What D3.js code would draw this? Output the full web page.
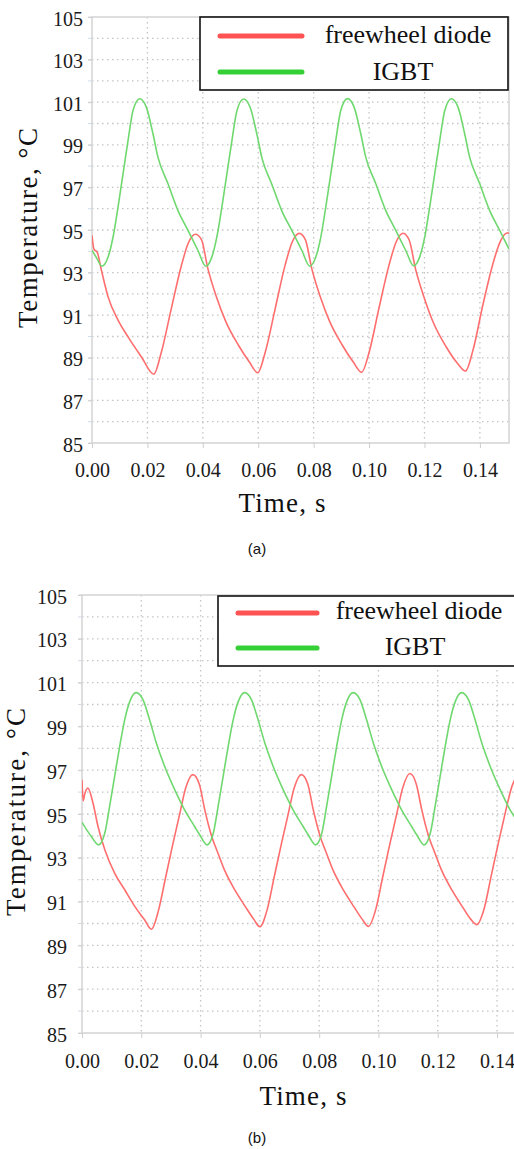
<!DOCTYPE html>
<html>
<head>
<meta charset="utf-8">
<script src="https://cdn.jsdelivr.net/npm/d3@7"></script>
<style>
  html, body { margin: 0; padding: 0; background: #fff; }
  svg { display: block; }
  .tick text { fill: #1a1a1a; }
</style>
</head>
<body>
<svg id="chart" width="514" height="1149"></svg>
<script>
// ---- data ----
var seriesNames = ["freewheel diode", "IGBT"];
var yTickValues = [85, 87, 89, 91, 93, 95, 97, 99, 101, 103, 105];
var xTickValues = [0, 0.02, 0.04, 0.06, 0.08, 0.10, 0.12, 0.14];

// panel (a)
var aTimeIgbt = [0, 0.0016, 0.0036, 0.0058, 0.0076, 0.0094, 0.0112, 0.013, 0.0148, 0.0172, 0.0196, 0.022, 0.0238, 0.0274, 0.031, 0.0346, 0.0382, 0.0411,
  0.0433, 0.0451, 0.0469, 0.0487, 0.0505, 0.0523, 0.0547, 0.0571, 0.0595, 0.0613, 0.0649, 0.0685, 0.0721, 0.0757, 0.0786,
  0.0808, 0.0826, 0.0844, 0.0862, 0.088, 0.0898, 0.0922, 0.0946, 0.097, 0.0988, 0.1024, 0.106, 0.1096, 0.1132, 0.1161,
  0.1183, 0.1201, 0.1219, 0.1237, 0.1255, 0.1273, 0.1297, 0.1321, 0.1345, 0.1363, 0.1399, 0.1435, 0.1471, 0.1505];
var aIgbt = [94.05, 93.7, 93.3, 93.73, 94.67, 96.08, 97.64, 99.2, 100.61, 101.16, 100.77, 99.52, 98.42, 97.18, 95.92, 94.99, 94.05, 93.3,
  93.75, 94.7, 96.1, 97.65, 99.2, 100.6, 101.15, 100.75, 99.5, 98.4, 97.15, 95.9, 94.98, 94.05, 93.3,
  93.74, 94.68, 96.1, 97.65, 99.22, 100.62, 101.17, 100.77, 99.52, 98.42, 97.18, 95.92, 94.99, 94.05, 93.32,
  93.75, 94.68, 96.1, 97.65, 99.2, 100.6, 101.16, 100.77, 99.52, 98.42, 97.18, 95.92, 94.99, 94.1];
var aTimeDiode = [0, 0.0007, 0.0019, 0.0034, 0.0058, 0.0094, 0.013, 0.0178, 0.0223, 0.025, 0.0286, 0.0322, 0.0348, 0.0373,
  0.0395, 0.0418, 0.0448, 0.0483, 0.0528, 0.0568, 0.0598, 0.0625, 0.0661, 0.0697, 0.0723, 0.0748,
  0.077, 0.0793, 0.0823, 0.0858, 0.0903, 0.0943, 0.0973, 0.1, 0.1036, 0.1072, 0.1098, 0.1123,
  0.1145, 0.1168, 0.1198, 0.1233, 0.1278, 0.1318, 0.1348, 0.1375, 0.1411, 0.1447, 0.1475, 0.1498, 0.1505];
var aDiode = [94.75, 94.1, 93.95, 93.11, 91.86, 90.77, 89.98, 89.05, 88.23, 89.25, 91.3, 93.3, 94.4, 94.8,
  94.55, 93.2, 91.9, 90.7, 89.6, 88.8, 88.3, 89.25, 91.3, 93.35, 94.45, 94.84,
  94.55, 93.2, 91.9, 90.7, 89.6, 88.8, 88.32, 89.25, 91.35, 93.35, 94.45, 94.85,
  94.52, 93.15, 91.86, 90.62, 89.52, 88.76, 88.38, 89.36, 91.5, 93.42, 94.5, 94.86, 94.86];

// panel (b)
var bTimeIgbt = [0, 0.0031, 0.0056, 0.0077, 0.0093, 0.011, 0.0127, 0.0144, 0.0161, 0.0183, 0.0206, 0.0228, 0.0251, 0.0279, 0.0313, 0.0346, 0.038, 0.0397, 0.0422,
  0.0443, 0.0459, 0.0476, 0.0493, 0.051, 0.0527, 0.0549, 0.0572, 0.0594, 0.0617, 0.0645, 0.0679, 0.0712, 0.0746, 0.0763, 0.0788,
  0.0809, 0.0825, 0.0842, 0.0859, 0.0876, 0.0893, 0.0915, 0.0938, 0.096, 0.0983, 0.1011, 0.1045, 0.1078, 0.1112, 0.1129, 0.1154,
  0.1175, 0.1191, 0.1208, 0.1225, 0.1242, 0.1259, 0.1281, 0.1304, 0.1326, 0.1349, 0.1377, 0.1411, 0.1444, 0.146];
var bIgbt = [94.62, 93.98, 93.59, 94.13, 95.34, 96.71, 98.08, 99.3, 100.13, 100.54, 100.21, 99.3, 98.23, 97.17, 96.1, 95.19, 94.43, 94.05, 93.59,
  94.13, 95.34, 96.71, 98.08, 99.3, 100.13, 100.54, 100.21, 99.3, 98.23, 97.17, 96.1, 95.19, 94.43, 94.05, 93.59,
  94.13, 95.34, 96.71, 98.08, 99.3, 100.13, 100.54, 100.21, 99.3, 98.23, 97.17, 96.1, 95.19, 94.43, 94.05, 93.59,
  94.13, 95.34, 96.71, 98.08, 99.3, 100.13, 100.54, 100.21, 99.3, 98.23, 97.17, 96.1, 95.19, 94.85];
var bTimeDiode = [0, 0.0004, 0.0009, 0.002, 0.0037, 0.0054, 0.0077, 0.011, 0.0144, 0.0178, 0.0211, 0.0234,
  0.0258, 0.0282, 0.0306, 0.0328, 0.035, 0.0374, 0.0396, 0.0414, 0.0437, 0.0459, 0.0482, 0.0517, 0.0552, 0.0579, 0.06,
  0.0624, 0.0648, 0.0672, 0.0694, 0.0716, 0.074, 0.0762, 0.078, 0.0803, 0.0825, 0.0848, 0.0883, 0.0918, 0.0945, 0.0966,
  0.099, 0.1014, 0.1038, 0.106, 0.1082, 0.1106, 0.1128, 0.1146, 0.1169, 0.1191, 0.1214, 0.1249, 0.1284, 0.1311, 0.1332,
  0.1356, 0.138, 0.1404, 0.1426, 0.145, 0.1464];
var bDiode = [96.56, 95.6, 95.9, 96.18, 95.5, 94.43, 93.37, 92.3, 91.54, 90.78, 90.17, 89.74,
  90.6, 92.1, 93.6, 94.9, 96.2, 96.8, 96.35, 95.2, 94.0, 93.2, 92.4, 91.5, 90.75, 90.2, 89.85,
  90.6, 92.1, 93.6, 94.9, 96.2, 96.8, 96.35, 95.2, 94.0, 93.2, 92.4, 91.5, 90.75, 90.2, 89.87,
  90.6, 92.1, 93.6, 94.9, 96.2, 96.85, 96.35, 95.2, 94.0, 93.2, 92.4, 91.5, 90.75, 90.2, 89.95,
  90.65, 92.15, 93.65, 94.95, 96.25, 96.7];

var lineColors = ["#ff6e6e", "#6fd86f"];     // thin plot lines
var legendColors = ["#ff5252", "#35d035"];   // thick legend strokes
var serif = "'Liberation Serif', 'Times New Roman', serif";

var svg = d3.select("#chart");

function drawPanel(p) {
	var x = d3.scaleLinear().domain([0, p.xMax]).range([p.left, p.right]);
	var y = d3.scaleLinear().domain([85, 105]).range([p.bottom, p.top]);
	var g = svg.append("g");

	g.append("clipPath").attr("id", "clip" + p.id)
		.append("rect")
		.attr("x", p.left).attr("y", p.top)
		.attr("width", p.right - p.left).attr("height", p.bottom - p.top);

	// dotted grid: every degree, every 0.02 s
	g.append("g").selectAll("line")
		.data(d3.range(86, 105))
		.enter().append("line")
		.attr("x1", p.left).attr("x2", p.right)
		.attr("y1", d => y(d)).attr("y2", d => y(d))
		.attr("stroke", "#c4c4c4").attr("stroke-width", 1.3)
		.attr("stroke-dasharray", "1.5,3.5");
	g.append("g").selectAll("line")
		.data(xTickValues.slice(1))
		.enter().append("line")
		.attr("x1", d => x(d)).attr("x2", d => x(d))
		.attr("y1", p.top).attr("y2", p.bottom)
		.attr("stroke", "#c4c4c4").attr("stroke-width", 1.3)
		.attr("stroke-dasharray", "1.5,3.5");

	// frame
	g.append("rect")
		.attr("x", p.left).attr("y", p.top)
		.attr("width", p.right - p.left).attr("height", p.bottom - p.top)
		.attr("fill", "none").attr("stroke", "#d6d6d6").attr("stroke-width", 1.6);

	// minor y ticks
	g.append("g").selectAll("line")
		.data(d3.range(85, 106))
		.enter().append("line")
		.attr("x1", p.left - 4).attr("x2", p.left)
		.attr("y1", d => y(d)).attr("y2", d => y(d))
		.attr("stroke", "#d0dbe6").attr("stroke-width", 1);

	// y axis labels
	var yAxis = g.append("g")
		.attr("transform", "translate(" + p.left + ",0)")
		.call(d3.axisLeft(y).tickValues(yTickValues).tickFormat(d3.format("d"))
			.tickSize(4).tickPadding(p.yPad));
	yAxis.select(".domain").remove();
	yAxis.selectAll(".tick line").attr("stroke", "#cfcfcf");
	yAxis.selectAll("text")
		.attr("dy", "0.4em")
		.style("font-family", serif).style("font-size", "20px");

	// x axis labels
	var xAxis = g.append("g")
		.attr("transform", "translate(0," + p.bottom + ")")
		.call(d3.axisBottom(x).tickValues(xTickValues).tickFormat(d3.format(".2f"))
			.tickSize(5).tickPadding(p.xPad));
	xAxis.select(".domain").remove();
	xAxis.selectAll(".tick line").attr("stroke", "#cfcfcf");
	xAxis.selectAll("text")
		.style("font-family", serif).style("font-size", "20px");

	// curves
	var line = d3.line()
		.x(d => x(d[0])).y(d => y(d[1]))
		.curve(d3.curveMonotoneX);
	var curves = [d3.zip(p.tDiode, p.diode), d3.zip(p.tIgbt, p.igbt)];
	g.append("g").attr("clip-path", "url(#clip" + p.id + ")")
		.selectAll("path")
		.data(curves)
		.enter().append("path")
		.attr("d", line)
		.attr("fill", "none")
		.attr("stroke", (d, i) => lineColors[i])
		.attr("stroke-width", 1.6);

	// axis titles
	g.append("text")
		.attr("x", p.xTitleX).attr("y", p.xTitleY)
		.attr("text-anchor", "middle")
		.attr("textLength", 87).attr("lengthAdjust", "spacing")
		.style("font-family", serif).style("font-size", "27px").style("fill", "#111")
		.text("Time, s");
	g.append("text")
		.attr("transform", "translate(" + p.yTitleX + "," + p.yTitleY + ") rotate(-90)")
		.attr("text-anchor", "middle")
		.attr("textLength", p.yTitleLen).attr("lengthAdjust", "spacing")
		.style("font-family", serif).style("font-size", "27px").style("fill", "#111")
		.text("Temperature, \u00B0C");

	// legend
	var lg = g.append("g");
	lg.append("rect")
		.attr("x", p.lgX).attr("y", p.lgY).attr("width", p.lgW).attr("height", p.lgH)
		.attr("fill", "#fff").attr("stroke", "#111").attr("stroke-width", 1.6);
	seriesNames.forEach(function (name, i) {
		lg.append("line")
			.attr("x1", p.lgLine[0]).attr("x2", p.lgLine[1])
			.attr("y1", p.lgRows[i]).attr("y2", p.lgRows[i])
			.attr("stroke", legendColors[i]).attr("stroke-width", 5)
			.attr("stroke-linecap", "round");
		lg.append("text")
			.attr("x", p.lgTextX[i]).attr("y", p.lgBase[i])
			.attr("text-anchor", "middle")
			.style("font-family", serif).style("font-size", "26px").style("fill", "#111")
			.text(name);
	});

	// caption
	g.append("text")
		.attr("x", 257).attr("y", p.capY)
		.attr("text-anchor", "middle")
		.style("font-family", "'Liberation Sans', Arial, sans-serif").style("font-size", "15px")
		.style("fill", "#111")
		.text(p.caption);
}

drawPanel({
	id: "a", left: 92, right: 509, top: 17, bottom: 443, xMax: 0.1505,
	yPad: 5, xPad: 15,
	tIgbt: aTimeIgbt, igbt: aIgbt, tDiode: aTimeDiode, diode: aDiode,
	xTitleX: 282, xTitleY: 512, yTitleX: 37, yTitleY: 228, yTitleLen: 200,
	lgX: 200, lgY: 17, lgW: 308, lgH: 73, lgLine: [220, 302], lgRows: [36, 72],
	lgTextX: [408, 403], lgBase: [43, 80],
	capY: 554, caption: "(a)"
});

drawPanel({
	id: "b", left: 82, right: 516, top: 595, bottom: 1033, xMax: 0.1464,
	yPad: 11, xPad: 16,
	tIgbt: bTimeIgbt, igbt: bIgbt, tDiode: bTimeDiode, diode: bDiode,
	xTitleX: 303, xTitleY: 1105, yTitleX: 25, yTitleY: 812, yTitleLen: 208,
	lgX: 218, lgY: 596, lgW: 300, lgH: 70, lgLine: [238, 317], lgRows: [613, 648],
	lgTextX: [419, 415], lgBase: [619, 655],
	capY: 1143, caption: "(b)"
});
</script>
</body>
</html>
